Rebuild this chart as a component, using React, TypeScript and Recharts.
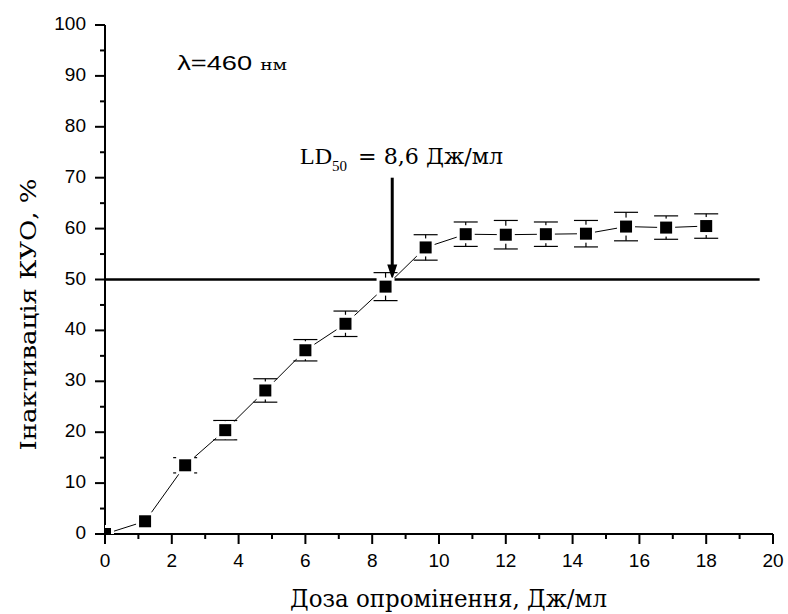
import React from 'react';
import {
  ComposedChart,
  Line,
  XAxis,
  YAxis,
  ErrorBar,
  ReferenceLine,
  ReferenceDot,
  Label,
} from 'recharts';

// Irradiation dose, J/ml
const doses = [0, 1.2, 2.4, 3.6, 4.8, 6.0, 7.2, 8.4, 9.6, 10.8, 12, 13.2, 14.4, 15.6, 16.8, 18];
// CFU inactivation, %
const inactivation = [0, 2.5, 13.5, 20.4, 28.2, 36.1, 41.3, 48.6, 56.3, 58.9, 58.8, 58.9, 59.0, 60.4, 60.2, 60.5];
// Standard error, %
const errors = [0, 0, 1.5, 1.9, 2.3, 2.1, 2.5, 2.75, 2.5, 2.4, 2.8, 2.4, 2.6, 2.8, 2.3, 2.4];

const xTicks = [0, 1, 2, 3, 4, 5, 6, 7, 8, 9, 10, 11, 12, 13, 14, 15, 16, 17, 18, 19, 20];
const xTickLabels = [0, 2, 4, 6, 8, 10, 12, 14, 16, 18, 20];
const yTicks = [0, 5, 10, 15, 20, 25, 30, 35, 40, 45, 50, 55, 60, 65, 70, 75, 80, 85, 90, 95, 100];
const yTickLabels = [0, 10, 20, 30, 40, 50, 60, 70, 80, 90, 100];

const ld50 = 8.6;
const level = 50;
const levelEnd = 19.6;
const arrowTop = 70;

const data = doses.map((d, i) => ({ dose: d, value: inactivation[i], err: errors[i] }));

const SANS = '"Liberation Sans", Arial, sans-serif';
const SERIF = '"Liberation Serif", "Times New Roman", serif';
// Liberation Serif here has no Cyrillic glyphs, so Cyrillic runs use DejaVu Serif
const SERIF_CYR = '"DejaVu Serif", serif';

const XTick = (props: any) => {
  const { x, y, payload } = props;
  const major = xTickLabels.includes(payload.value);
  return (
    <g>
      <line x1={x} x2={x} y1={y} y2={y + (major ? 10 : 5)} stroke="#000" strokeWidth={2} />
      {major && (
        <text x={x} y={y + 33} textAnchor="middle" fontFamily={SANS} fontSize={19} fill="#000">
          {payload.value}
        </text>
      )}
    </g>
  );
};

const YTick = (props: any) => {
  const { x, y, payload } = props;
  const major = yTickLabels.includes(payload.value);
  return (
    <g>
      <line x1={x - (major ? 10 : 5)} x2={x} y1={y} y2={y} stroke="#000" strokeWidth={2} />
      {major && (
        <text x={x - 19} y={y + 5} textAnchor="end" fontFamily={SANS} fontSize={19} fill="#000">
          {payload.value}
        </text>
      )}
    </g>
  );
};

const BlackSquare = (props: any) => {
  const { cx, cy, index } = props;
  if (cx == null || cy == null) return <g key={`b-${index}`} />;
  return <rect key={`b-${index}`} x={cx - 6} y={cy - 6} width={12} height={12} fill="#000" />;
};

const WhiteHalo = (props: any) => {
  const { cx, cy, index } = props;
  if (cx == null || cy == null) return <g key={`w-${index}`} />;
  return <rect key={`w-${index}`} x={cx - 9} y={cy - 9} width={18} height={18} fill="#fff" />;
};

const Arrow = (props: any) => {
  const { x1, y1, x2, y2 } = props;
  return (
    <g>
      <line x1={x1} y1={y1} x2={x2} y2={y2 - 12} stroke="#000" strokeWidth={3} />
      <polygon points={`${x2 - 5},${y2 - 15} ${x2 + 5},${y2 - 15} ${x2},${y2}`} fill="#000" />
    </g>
  );
};

const LdText = (props: any) => {
  const { cx, cy } = props;
  return (
    <g fill="#000">
      <text x={cx} y={cy} fontFamily={SERIF} fontSize={24}>
        LD
        <tspan fontSize={15} dy={7}>50</tspan>
      </text>
      <text x={cx + 58} y={cy} fontFamily={SERIF_CYR} fontSize={22} textLength={145} lengthAdjust="spacingAndGlyphs">
        = 8,6 Дж/мл
      </text>
    </g>
  );
};

const WavelengthText = (props: any) => {
  const { cx, cy } = props;
  return (
    <g fill="#000">
      <text x={cx} y={cy} fontFamily={SANS} fontSize={21} textLength={75} lengthAdjust="spacingAndGlyphs">
        λ=460
      </text>
      <text x={cx + 83} y={cy} fontFamily={SERIF_CYR} fontSize={15} textLength={27} lengthAdjust="spacingAndGlyphs">
        нм
      </text>
    </g>
  );
};

const XTitle = (props: any) => {
  const { viewBox } = props;
  const left = viewBox.x + 185;
  return (
    <text
      x={left}
      y={viewBox.y + 73}
      fontFamily={SERIF_CYR}
      fontSize={24}
      textLength={317}
      lengthAdjust="spacingAndGlyphs"
      fill="#000"
    >
      Доза опромінення, Дж/мл
    </text>
  );
};

const YTitle = (props: any) => {
  const { viewBox } = props;
  const cx = viewBox.x + 26;
  const cy = viewBox.y + viewBox.height / 2 + 35;
  return (
    <text
      x={cx}
      y={cy}
      transform={`rotate(-90, ${cx}, ${cy})`}
      textAnchor="middle"
      fontFamily={SERIF_CYR}
      fontSize={22}
      textLength={272}
      lengthAdjust="spacingAndGlyphs"
      fill="#000"
    >
      Інактивація КУО, %
    </text>
  );
};

export default function App() {
  return (
    <div style={{ position: 'absolute', left: 0, top: 0, background: '#fff' }}>
      <ComposedChart
        width={788}
        height={614}
        data={data}
        margin={{ top: 25, right: 15, bottom: 40, left: 10 }}
      >
        <XAxis
          dataKey="dose"
          type="number"
          domain={[0, 20]}
          ticks={xTicks}
          interval={0}
          allowDataOverflow
          tickSize={0}
          tickMargin={0}
          tickLine={false}
          tick={<XTick />}
          axisLine={{ stroke: '#000', strokeWidth: 2 }}
          height={40}
          label={<Label content={<XTitle />} />}
        />
        <YAxis
          type="number"
          domain={[0, 100]}
          ticks={yTicks}
          interval={0}
          allowDataOverflow
          tickSize={0}
          tickMargin={0}
          tickLine={false}
          tick={<YTick />}
          axisLine={{ stroke: '#000', strokeWidth: 2 }}
          width={95}
          label={<Label content={<YTitle />} />}
        />
        <ReferenceLine
          segment={[
            { x: 0, y: level },
            { x: levelEnd, y: level },
          ]}
          stroke="#000"
          strokeWidth={2.5}
        />
        <Line dataKey="value" stroke="#000" strokeWidth={1} dot={false} isAnimationActive={false} />
        <Line dataKey="value" stroke="none" dot={<WhiteHalo />} isAnimationActive={false} />
        <Line dataKey="value" stroke="none" dot={<BlackSquare />} isAnimationActive={false}>
          <ErrorBar dataKey="err" width={12} stroke="#000" strokeWidth={1.2} direction="y" />
        </Line>
        <ReferenceLine
          segment={[
            { x: ld50, y: arrowTop },
            { x: ld50, y: level },
          ]}
          shape={<Arrow />}
        />
        <ReferenceDot x={5.84} y={72.6} shape={<LdText />} />
        <ReferenceDot x={2.16} y={91.2} shape={<WavelengthText />} />
      </ComposedChart>
    </div>
  );
}
